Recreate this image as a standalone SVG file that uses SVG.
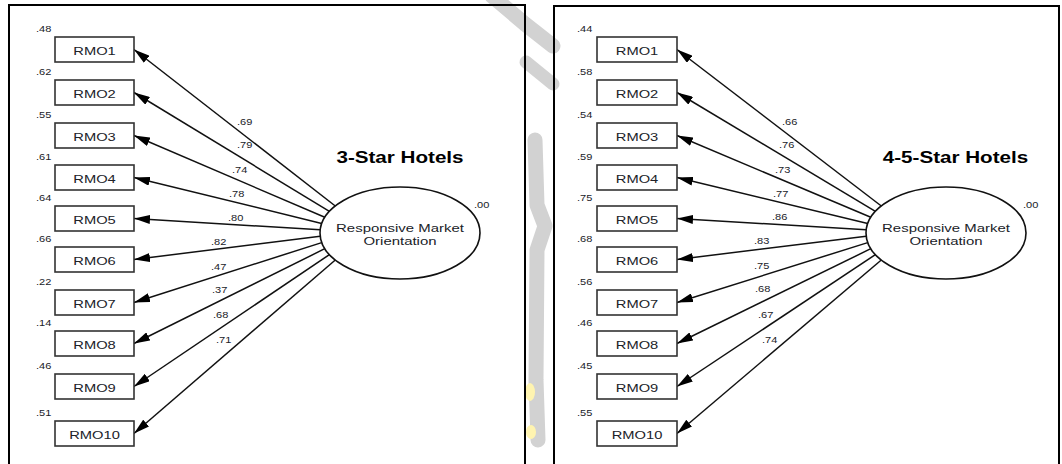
<svg xmlns="http://www.w3.org/2000/svg" width="1062" height="464" viewBox="0 0 1062 464">
  <style>
    text { font-family: "Liberation Sans", Arial, sans-serif; fill: #202228; }
    .box { fill: #fff; stroke: #333; stroke-width: 1.6; }
    .lv { fill: #fff; stroke: #111; stroke-width: 1.6; }
    .frame { fill: none; stroke: #000; stroke-width: 2; }
    .lbl { font-size: 11.5px; }
    .num { font-size: 8.5px; }
    .ttl { font-size: 16.5px; font-weight: bold; fill: #000; }
    .path { stroke: #111; stroke-width: 1.5; fill: none; marker-end: url(#arr); }
    .wm { fill: none; stroke: #d2d2d2; stroke-linecap: round; stroke-linejoin: round; }
  </style>
  <defs>
    <marker id="arr" markerUnits="userSpaceOnUse" markerWidth="16" markerHeight="9" refX="16" refY="4.5" orient="auto" viewBox="0 0 16 9">
      <path d="M0,0 L16,4.5 L0,9 Z" fill="#000"/>
    </marker>
  </defs>

  <rect width="1062" height="464" fill="#fff"/>

  <!-- background mark between the two panels -->
  <g id="backdrop">
    <path class="wm" d="M492 -4 L525 24 L553 46" stroke-width="15"/>
    <path class="wm" d="M526 62 L553 84" stroke-width="13"/>
    <path class="wm" d="M535 140 L537 205 L545 226 L537 250 L536 380 L538 440" stroke-width="15"/>
    <ellipse cx="530" cy="392" rx="5" ry="9" fill="#fff4b0"/>
    <ellipse cx="531" cy="432" rx="5" ry="7" fill="#fff4b0"/>
  </g>

  <!-- panel frames -->
  <rect class="frame" x="9" y="5" width="516" height="470"/>
  <rect class="frame" x="554" y="6" width="505" height="470"/>

  <!-- titles -->
  <text class="ttl" text-anchor="middle" transform="translate(400,163) scale(1.25,1)">3-Star Hotels</text>
  <text class="ttl" text-anchor="middle" transform="translate(955.5,163) scale(1.25,1)">4-5-Star Hotels</text>

  <!-- loadings: latent factor to indicators -->
  <g id="connectors">
    <line class="path" x1="335.3" y1="206.0" x2="134" y2="49.5"/>
    <line class="path" x1="329.4" y1="211.4" x2="134" y2="92.5"/>
    <line class="path" x1="324.8" y1="217.3" x2="134" y2="135.5"/>
    <line class="path" x1="321.7" y1="223.4" x2="134" y2="177.5"/>
    <line class="path" x1="320.2" y1="229.8" x2="134" y2="218.5"/>
    <line class="path" x1="320.2" y1="236.2" x2="134" y2="259.5"/>
    <line class="path" x1="321.7" y1="242.6" x2="134" y2="302.5"/>
    <line class="path" x1="324.8" y1="248.7" x2="134" y2="343.5"/>
    <line class="path" x1="329.4" y1="254.6" x2="134" y2="386.5"/>
    <line class="path" x1="335.3" y1="260.0" x2="134" y2="433.5"/>

    <line class="path" x1="881.3" y1="206.0" x2="677" y2="49.5"/>
    <line class="path" x1="875.4" y1="211.4" x2="677" y2="92.5"/>
    <line class="path" x1="870.8" y1="217.3" x2="677" y2="135.5"/>
    <line class="path" x1="867.7" y1="223.4" x2="677" y2="177.5"/>
    <line class="path" x1="866.2" y1="229.8" x2="677" y2="218.5"/>
    <line class="path" x1="866.2" y1="236.2" x2="677" y2="259.5"/>
    <line class="path" x1="867.7" y1="242.6" x2="677" y2="302.5"/>
    <line class="path" x1="870.8" y1="248.7" x2="677" y2="343.5"/>
    <line class="path" x1="875.4" y1="254.6" x2="677" y2="386.5"/>
    <line class="path" x1="881.3" y1="260.0" x2="677" y2="433.5"/>

    <g class="num">
      <text transform="translate(237,125) scale(1.3,1)">.69</text>
      <text transform="translate(237,148) scale(1.3,1)">.79</text>
      <text transform="translate(232,173) scale(1.3,1)">.74</text>
      <text transform="translate(229,197) scale(1.3,1)">.78</text>
      <text transform="translate(228,221) scale(1.3,1)">.80</text>
      <text transform="translate(211,245) scale(1.3,1)">.82</text>
      <text transform="translate(211,270) scale(1.3,1)">.47</text>
      <text transform="translate(212,293) scale(1.3,1)">.37</text>
      <text transform="translate(213,318) scale(1.3,1)">.68</text>
      <text transform="translate(216,343) scale(1.3,1)">.71</text>

      <text transform="translate(782,125) scale(1.3,1)">.66</text>
      <text transform="translate(779,148) scale(1.3,1)">.76</text>
      <text transform="translate(775,173) scale(1.3,1)">.73</text>
      <text transform="translate(773,197) scale(1.3,1)">.77</text>
      <text transform="translate(772,220) scale(1.3,1)">.86</text>
      <text transform="translate(754,244) scale(1.3,1)">.83</text>
      <text transform="translate(754,269) scale(1.3,1)">.75</text>
      <text transform="translate(755,292) scale(1.3,1)">.68</text>
      <text transform="translate(758,318) scale(1.3,1)">.67</text>
      <text transform="translate(762,343) scale(1.3,1)">.74</text>
    </g>
  </g>

  <!-- 3-star model -->
  <g id="rmo-3star">
    <ellipse class="lv" cx="400" cy="233" rx="80" ry="46"/>
    <text class="lbl" text-anchor="middle" transform="translate(400,232) scale(1.3,1)">Responsive Market</text>
    <text class="lbl" text-anchor="middle" transform="translate(400,245) scale(1.3,1)">Orientation</text>
    <text class="num" transform="translate(474,208) scale(1.3,1)">.00</text>
  </g>

  <g id="s3-rmo1"><rect class="box" x="55" y="37" width="79" height="25"/><text class="lbl" text-anchor="middle" transform="translate(94.5,54.5) scale(1.28,1)">RMO1</text><text class="num" transform="translate(36,32) scale(1.3,1)">.48</text></g>
  <g id="s3-rmo2"><rect class="box" x="55" y="80" width="79" height="25"/><text class="lbl" text-anchor="middle" transform="translate(94.5,97.5) scale(1.28,1)">RMO2</text><text class="num" transform="translate(36,75) scale(1.3,1)">.62</text></g>
  <g id="s3-rmo3"><rect class="box" x="55" y="123" width="79" height="25"/><text class="lbl" text-anchor="middle" transform="translate(94.5,140.5) scale(1.28,1)">RMO3</text><text class="num" transform="translate(36,118) scale(1.3,1)">.55</text></g>
  <g id="s3-rmo4"><rect class="box" x="55" y="165" width="79" height="25"/><text class="lbl" text-anchor="middle" transform="translate(94.5,182.5) scale(1.28,1)">RMO4</text><text class="num" transform="translate(36,160) scale(1.3,1)">.61</text></g>
  <g id="s3-rmo5"><rect class="box" x="55" y="206" width="79" height="25"/><text class="lbl" text-anchor="middle" transform="translate(94.5,223.5) scale(1.28,1)">RMO5</text><text class="num" transform="translate(36,201) scale(1.3,1)">.64</text></g>
  <g id="s3-rmo6"><rect class="box" x="55" y="247" width="79" height="25"/><text class="lbl" text-anchor="middle" transform="translate(94.5,264.5) scale(1.28,1)">RMO6</text><text class="num" transform="translate(36,242) scale(1.3,1)">.66</text></g>
  <g id="s3-rmo7"><rect class="box" x="55" y="290" width="79" height="25"/><text class="lbl" text-anchor="middle" transform="translate(94.5,307.5) scale(1.28,1)">RMO7</text><text class="num" transform="translate(36,285) scale(1.3,1)">.22</text></g>
  <g id="s3-rmo8"><rect class="box" x="55" y="331" width="79" height="25"/><text class="lbl" text-anchor="middle" transform="translate(94.5,348.5) scale(1.28,1)">RMO8</text><text class="num" transform="translate(36,326) scale(1.3,1)">.14</text></g>
  <g id="s3-rmo9"><rect class="box" x="55" y="374" width="79" height="25"/><text class="lbl" text-anchor="middle" transform="translate(94.5,391.5) scale(1.28,1)">RMO9</text><text class="num" transform="translate(36,369) scale(1.3,1)">.46</text></g>
  <g id="s3-rmo10"><rect class="box" x="55" y="421" width="79" height="25"/><text class="lbl" text-anchor="middle" transform="translate(94.5,438.5) scale(1.28,1)">RMO10</text><text class="num" transform="translate(36,416) scale(1.3,1)">.51</text></g>

  <!-- 4-5-star model -->
  <g id="rmo-45star">
    <ellipse class="lv" cx="946" cy="233" rx="80" ry="46"/>
    <text class="lbl" text-anchor="middle" transform="translate(946,232) scale(1.3,1)">Responsive Market</text>
    <text class="lbl" text-anchor="middle" transform="translate(946,245) scale(1.3,1)">Orientation</text>
    <text class="num" transform="translate(1023,208) scale(1.3,1)">.00</text>
  </g>

  <g id="s45-rmo1"><rect class="box" x="597" y="37" width="80" height="25"/><text class="lbl" text-anchor="middle" transform="translate(637,54.5) scale(1.28,1)">RMO1</text><text class="num" transform="translate(577,32) scale(1.3,1)">.44</text></g>
  <g id="s45-rmo2"><rect class="box" x="597" y="80" width="80" height="25"/><text class="lbl" text-anchor="middle" transform="translate(637,97.5) scale(1.28,1)">RMO2</text><text class="num" transform="translate(577,75) scale(1.3,1)">.58</text></g>
  <g id="s45-rmo3"><rect class="box" x="597" y="123" width="80" height="25"/><text class="lbl" text-anchor="middle" transform="translate(637,140.5) scale(1.28,1)">RMO3</text><text class="num" transform="translate(577,118) scale(1.3,1)">.54</text></g>
  <g id="s45-rmo4"><rect class="box" x="597" y="165" width="80" height="25"/><text class="lbl" text-anchor="middle" transform="translate(637,182.5) scale(1.28,1)">RMO4</text><text class="num" transform="translate(577,160) scale(1.3,1)">.59</text></g>
  <g id="s45-rmo5"><rect class="box" x="597" y="206" width="80" height="25"/><text class="lbl" text-anchor="middle" transform="translate(637,223.5) scale(1.28,1)">RMO5</text><text class="num" transform="translate(577,201) scale(1.3,1)">.75</text></g>
  <g id="s45-rmo6"><rect class="box" x="597" y="247" width="80" height="25"/><text class="lbl" text-anchor="middle" transform="translate(637,264.5) scale(1.28,1)">RMO6</text><text class="num" transform="translate(577,242) scale(1.3,1)">.68</text></g>
  <g id="s45-rmo7"><rect class="box" x="597" y="290" width="80" height="25"/><text class="lbl" text-anchor="middle" transform="translate(637,307.5) scale(1.28,1)">RMO7</text><text class="num" transform="translate(577,285) scale(1.3,1)">.56</text></g>
  <g id="s45-rmo8"><rect class="box" x="597" y="331" width="80" height="25"/><text class="lbl" text-anchor="middle" transform="translate(637,348.5) scale(1.28,1)">RMO8</text><text class="num" transform="translate(577,326) scale(1.3,1)">.46</text></g>
  <g id="s45-rmo9"><rect class="box" x="597" y="374" width="80" height="25"/><text class="lbl" text-anchor="middle" transform="translate(637,391.5) scale(1.28,1)">RMO9</text><text class="num" transform="translate(577,369) scale(1.3,1)">.45</text></g>
  <g id="s45-rmo10"><rect class="box" x="597" y="421" width="80" height="25"/><text class="lbl" text-anchor="middle" transform="translate(637,438.5) scale(1.28,1)">RMO10</text><text class="num" transform="translate(577,416) scale(1.3,1)">.55</text></g>
</svg>
